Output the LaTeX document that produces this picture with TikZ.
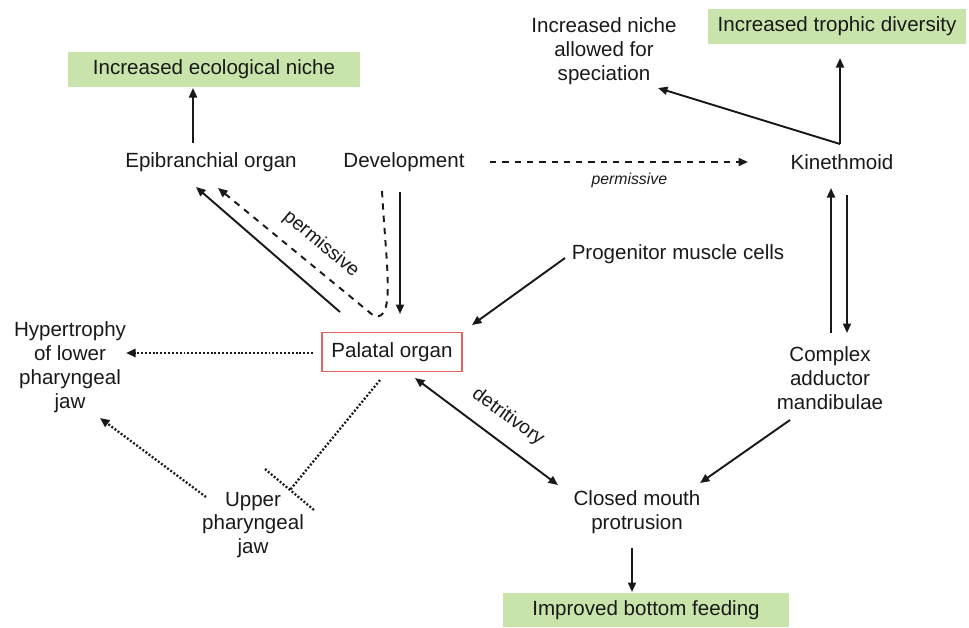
\documentclass[tikz,border=0pt]{standalone}
\usepackage{fontspec}
\setmainfont{Liberation Sans}
\usetikzlibrary{arrows.meta,calc}
\definecolor{boxgreen}{RGB}{200,228,170}
\definecolor{boxred}{RGB}{238,96,96}
\definecolor{ink}{RGB}{25,25,25}
\begin{document}
\begin{tikzpicture}[x=0.02cm,y=-0.02cm,
  every node/.style={text=ink},
  txt/.style={inner sep=0pt,align=center,font=\fontsize{11.7}{13.6}\selectfont},
  goal/.style={txt,fill=boxgreen,minimum height=0.7cm},
  arr/.style={draw=ink,line width=1.1pt,-{Triangle[length=1.9mm,width=1.6mm]}},
  darr/.style={draw=ink,line width=1.1pt,{Triangle[length=1.9mm,width=1.6mm]}-{Triangle[length=1.9mm,width=1.6mm]}},
  dsh/.style={arr,dash pattern=on 3.6pt off 3.4pt},
  dot/.style={draw=ink,line width=1.3pt,dash pattern=on 1.1pt off 1.1pt},
  dotarr/.style={dot,-{Triangle[length=1.9mm,width=1.6mm]}},
  lab/.style={inner sep=0pt,font=\fontsize{11}{13}\selectfont}
]
\useasboundingbox (0,0) rectangle (969,627);

% nodes
\node[goal,minimum width=5.84cm] (eco) at (214,69) {Increased ecological niche};
\node[goal,minimum width=5.16cm] (troph) at (837,26) {Increased trophic diversity};
\node[goal,minimum width=5.74cm,minimum height=0.68cm] (ibf) at (646,610) {Improved bottom feeding};
\node[txt] (spec) at (604,51) {Increased niche\\allowed for\\speciation};
\node[txt] (epi) at (211,162) {Epibranchial organ};
\node[txt] (dev) at (404,162) {Development};
\node[txt] (kin) at (842,162) {Kinethmoid};
\node[txt] (prog) at (678,254) {Progenitor muscle cells};
\node[txt,draw=boxred,line width=0.9pt,minimum width=2.8cm,minimum height=0.78cm] (pal) at (392,352) {Palatal organ};
\node[txt] (hyp) at (70,367) {Hypertrophy\\of lower\\pharyngeal\\jaw};
\node[txt] (cam) at (830,378) {Complex\\adductor\\mandibulae};
\node[txt] (upj) at (253,525) {Upper\\pharyngeal\\jaw};
\node[txt] (cmp) at (637,512) {Closed mouth\\protrusion};

% connectors
\draw[arr] ($(epi)+(-18,-19)$) -- ($(eco)+(-21,19)$);
\draw[arr] ($(pal)+(-52,-40)$) -- ($(epi)+(-15,25)$);
\draw[dsh] ($(dev)+(-22,29)$) .. controls (386,265) and (396,322) .. (374,316) -- ($(epi)+(7,26)$);
\node[lab,rotate=-40] (perm1) at (321,244) {permissive};
\draw[arr] ($(dev)+(-4,30)$) -- ($(pal)+(8,-38)$);
\draw[dsh] ($(dev)+(86,0)$) -- node[below=6pt,pos=0.54,inner sep=0pt,font=\itshape\fontsize{9}{11}\selectfont] (perm2) {permissive} ($(kin)+(-94,0)$);
\coordinate (kfork) at ($(kin)+(-2,-18)$);
\draw[arr] (kfork) -- ($(spec)+(54,37)$);
\draw[arr] (kfork) -- ($(troph)+(3,32)$);
\draw[arr] ($(cam)+(1,-45)$) -- ($(kin)+(-11,26)$);
\draw[arr] ($(kin)+(5,33)$) -- ($(cam)+(17,-45)$);
\draw[arr] ($(prog)+(-113,4)$) -- ($(pal)+(80,-27)$);
\draw[darr] ($(pal)+(23,26)$) -- ($(cmp)+(-79,-27)$);
\node[lab,rotate=-36] (detr) at (508,417) {detritivory};
\draw[arr] ($(cam)+(-40,42)$) -- ($(cmp)+(63,-29)$);
\draw[arr] ($(cmp)+(-5,36)$) -- ($(ibf)+(-14,-18)$);
\draw[dotarr] ($(pal)+(-79,1)$) -- ($(hyp)+(56,-14)$);
\draw[dotarr] ($(upj)+(-47,-28)$) -- ($(hyp)+(30,51)$);
\coordinate (inh) at ($(upj)+(37,-35)$);
\draw[dot] ($(pal)+(-12,28)$) -- (inh);
\draw[dot] ($(inh)+(-25,-21)$) -- ($(inh)+(24,20)$);
\end{tikzpicture}
\end{document}
